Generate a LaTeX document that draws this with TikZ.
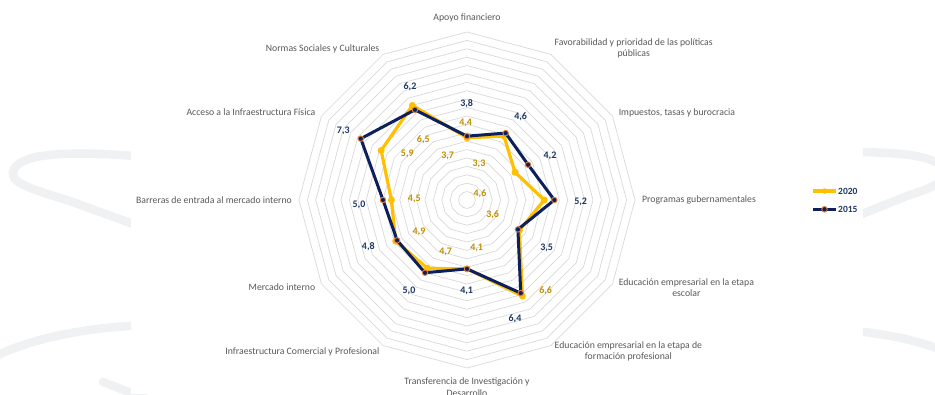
\documentclass[tikz,border=0pt]{standalone}
\usepackage{fontspec}
\setmainfont{Carlito}
\usetikzlibrary{calc}
\usetikzlibrary{positioning}

\definecolor{navy}{HTML}{0D1F5C}
\definecolor{gold}{HTML}{FFC000}
\definecolor{golddark}{HTML}{BF9000}
\definecolor{labnavy}{HTML}{1F3864}
\definecolor{markedge}{HTML}{E0803A}
\definecolor{ringgray}{HTML}{D9D9D9}
\definecolor{axisgray}{HTML}{595959}
\definecolor{watermark}{HTML}{F0F1F3}

\begin{document}
\begin{tikzpicture}[x=1pt, y=1pt,
    every node/.style={font=\fontsize{9.75}{11.5}\selectfont, inner sep=0pt},
    axis label/.style={text=axisgray, align=center},
    ring/.style={draw=ringgray, line width=0.7pt},
    wm/.style={draw=watermark, line width=8.5pt, line cap=round},
    line2015/.style={draw=navy, line width=3pt, line join=round},
    line2020/.style={draw=gold, line width=3.2pt, line join=round},
    mark2015/.style={circle, fill=navy, draw=markedge, line width=0.9pt, minimum size=5.5pt},
    mark2020/.style={circle, fill=gold, minimum size=7pt},
    val2015/.style={text=labnavy, font=\fontsize{10}{12}\selectfont\bfseries},
    val2020/.style={text=golddark, font=\fontsize{10}{12}\selectfont\bfseries},
    legend text/.style={text=labnavy, font=\fontsize{9.5}{11}\selectfont\bfseries}]

    \useasboundingbox (-467,-194) rectangle (468,200);

    % watermark round the chart area
    \draw[wm] (-320,43) .. controls (-400,50) and (-450,47) .. (-454,28) .. controls (-456,18) and (-440,12) .. (-400,0) -- (-320,-29);
    \draw[wm] (-320,-125) .. controls (-390,-128) and (-440,-140) .. (-480,-160);
    \draw[wm] (-364,-182) -- (-320,-199);
    \draw[wm] (380,48) .. controls (430,48) and (470,45) .. (478,30) .. controls (482,20) and (470,14) .. (440,4) -- (380,-20);
    \draw[wm] (380,-130) .. controls (420,-134) and (450,-140) .. (480,-152);
    \fill[white] (-336.3,-194) rectangle (395.7,200);

    % rings
    \foreach \k in {1,...,20} {
        \pgfmathsetmacro\r{8.4*\k}
        \draw[ring] (90:\r) \foreach \a in {120,150,...,420} {-- (\a:\r)} -- cycle;
    }

    % axis labels
    \foreach \t/\anc/\r [count=\i from 0] in {
        {Apoyo financiero}/south/178,
        {Favorabilidad y prioridad de las políticas\\públicas}/west/175,
        {Impuestos, tasas y burocracia}/west/175,
        {Programas gubernamentales}/west/175,
        {Educación empresarial en la etapa\\escolar}/west/175,
        {Educación empresarial en la etapa de\\formación profesional}/west/175,
        {Transferencia de Investigación y\\Desarrollo}/north/178,
        {Infraestructura Comercial y Profesional}/east/175,
        {Mercado interno}/east/175,
        {Barreras de entrada al mercado interno}/east/175,
        {Acceso a la Infraestructura Física}/east/175,
        {Normas Sociales y Culturales}/east/175}
        \node[axis label, anchor=\anc] (ax\i) at ({90-30*\i}:\r) {\t};

    % data points
    \foreach \v [count=\i from 0] in {3.7,4.4,3.3,4.6,3.6,6.6,4.1,4.7,4.9,4.5,5.9,6.5}
        \coordinate (p2020-\i) at ({90-30*\i}:{16.8*\v});
    \foreach \v [count=\i from 0] in {3.8,4.6,4.2,5.2,3.5,6.4,4.1,5.0,4.8,5.0,7.3,6.2}
        \coordinate (p2015-\i) at ({90-30*\i}:{16.8*\v});

    \draw[line2020] (p2020-0) \foreach \i in {1,...,11} {-- (p2020-\i)} -- cycle;
    \foreach \i in {0,...,11}
        \node[mark2020] (m2020-\i) at (p2020-\i) {};
    \draw[line2015] (p2015-0) \foreach \i in {1,...,11} {-- (p2015-\i)} -- cycle;
    \foreach \i in {0,...,11}
        \node[mark2015] (m2015-\i) at (p2015-\i) {};

    % value labels
    \foreach \x/\y/\t [count=\i] in {-1.3/76.7/{4,4}, -43.7/60/{6,5}, -59.7/45.7/{5,9}, -19.3/44/{3,7},
        12/35.7/{3,3}, 13/6.7/{4,6}, -52.7/1/{4,5}, 25.7/-15/{3,6}, -48/-31.7/{4,9},
        -21.3/-52.3/{4,7}, 9.7/-47.7/{4,1}, 78.7/-90.7/{6,6}}
        \node[val2020] (v2020-\i) at (\x,\y) {\t};
    \foreach \x/\y/\t [count=\i] in {-0.3/96.7/{3,8}, 53.7/83.3/{4,6}, 83/44.3/{4,2}, 113.7/-1.7/{5,2},
        79.7/-47.7/{3,5}, 48/-119/{6,4}, -0.3/-90.7/{4,1}, -58/-90.7/{5,0},
        -98.7/-46.7/{4,8}, -108/-5/{5,0}, -123.7/69.3/{7,3}, -57/113.3/{6,2}}
        \node[val2015] (v2015-\i) at (\x,\y) {\t};

    % legend
    \coordinate (key2020 w) at (346,9);
    \coordinate (key2020 e) at (369,9);
    \draw[line2020] (key2020 w) -- (key2020 e);
    \node[mark2020, minimum size=5.5pt] (key2020) at ($(key2020 w)!0.5!(key2020 e)$) {};
    \node[legend text, right=2pt of key2020 e] (txt2020) {2020};

    \coordinate (key2015 w) at (346,-9.3);
    \coordinate (key2015 e) at (369,-9.3);
    \draw[line2015] (key2015 w) -- (key2015 e);
    \node[mark2015] (key2015) at ($(key2015 w)!0.5!(key2015 e)$) {};
    \node[legend text, right=2pt of key2015 e] (txt2015) {2015};
\end{tikzpicture}
\end{document}
